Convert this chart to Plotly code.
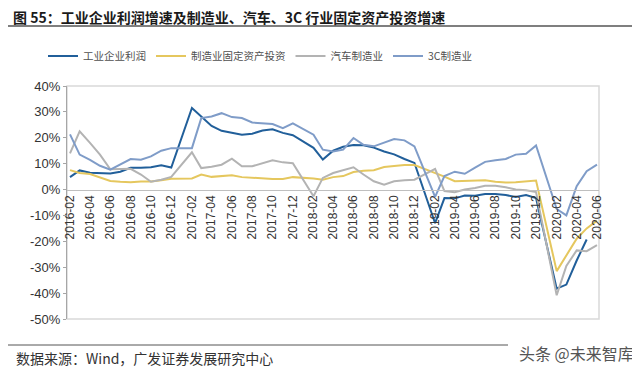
import plotly.graph_objects as go

months = [f"{y}-{m:02d}" for y in range(2016, 2021) for m in range(2, 13)][:49]

profit = [4.8, 7.4, 6.5, 6.4, 6.2, 6.9, 8.4, 8.4, 8.6, 9.4, 8.5,
          31.5, 28.3, 24.6, 22.7, 22.0, 21.2, 21.6, 22.8, 23.3, 21.9, 21.0,
          16.1, 11.6, 15.0, 16.5, 17.2, 17.1, 16.2, 14.7, 13.6, 11.8, 10.3,
          -13.0, -3.3, -3.4, -2.3, -2.4, -1.7, -1.7, -2.1, -2.9, -2.1, -3.3,
          -38.3, -36.7, -27.4, -19.3, None]

mfg_fai = [7.5, 6.4, 6.0, 4.6, 3.3, 3.0, 2.8, 3.1, 3.1, 3.6, 4.2,
           4.3, 5.8, 4.9, 5.1, 5.5, 4.8, 4.5, 4.2, 4.1, 4.1, 4.8,
           4.3, 3.8, 4.8, 5.2, 6.8, 7.3, 7.5, 8.7, 9.1, 9.5, 9.5,
           6.5, 5.0, 3.2, 3.3, 3.5, 3.6, 3.0, 2.7, 2.8, 3.2, 3.5,
           -31.5, -25.5, -19.0, -15.0, -12.0]

auto_fai = [14.0, 22.5, 18.0, 13.5, 7.8, 8.0, 8.0, 5.8, 3.0, 3.8, 4.9,
            14.4, 8.3, 8.8, 9.6, 11.9, 9.0, 9.0, 10.2, 11.3, 10.5, 10.2,
            -2.6, 4.5, 6.4, 7.4, 8.6, 5.8, 3.2, 1.9, 3.2, 3.6, 3.8,
            8.0, -0.6, -1.0, 0.0, 0.6, 1.5, 1.5, 0.9, 0.0, -0.3, -1.0,
            -40.8, -29.5, -23.5, -23.8, -21.5]

c3_fai = [21.3, 13.5, 11.5, 9.2, 7.7, 9.6, 11.8, 11.5, 12.8, 15.0, 16.0,
          16.0, 27.6, 28.2, 29.5, 28.0, 27.6, 25.9, 25.6, 25.3, 23.7, 25.6,
          21.2, 15.4, 14.7, 15.4, 19.9, 17.3, 16.7, 18.2, 19.5, 19.0, 16.7,
          -2.8, 5.2, 6.9, 6.1, 8.5, 10.7, 11.3, 11.8, 13.5, 13.8, 17.0,
          -7.5, -10.0, 1.3, 7.1, 9.6]

series = [("工业企业利润", profit, "#215F9A"),
          ("制造业固定资产投资", mfg_fai, "#E5C75E"),
          ("汽车制造业", auto_fai, "#B3B3B3"),
          ("3C制造业", c3_fai, "#7F9CC8")]

y_ticks = [40, 30, 20, 10, 0, -10, -20, -30, -40, -50]
y_labels = [f"{v}%" for v in y_ticks]

dates = [m + "-01" for m in months]

fig = go.Figure()
for name, vals, col in series:
    fig.add_trace(go.Scatter(x=dates, y=vals, name=name, mode="lines",
                             line=dict(color=col, width=2), connectgaps=False))

CJK = "Noto Sans CJK SC"
PW, PH = 532, 233
OFF = 8  # page body margin
fig.update_layout(
    width=640 - OFF, height=373 - OFF,
    margin=dict(l=67 - OFF, r=41, t=86 - OFF, b=54, autoexpand=False),
    paper_bgcolor="white", plot_bgcolor="white",
    font=dict(family="Liberation Sans, Arial, " + CJK, size=12, color="#333333"),
    showlegend=True,
    legend=dict(orientation="h", x=(53 - 67 - 10) / PW, xanchor="left",
                y=1 + (86 - 56) / PH, yanchor="middle",
                font=dict(family=CJK, size=10.5, color="#505050"),
                itemwidth=30, tracegroupgap=0, bgcolor="rgba(0,0,0,0)"),
    xaxis=dict(type="date", range=["2016-01-23", "2020-06-07"],
               tick0="2016-02-01", dtick="M2", tickformat="%Y-%m",
               tickangle=-90, tickfont=dict(size=12, color="#333333",
                                            family="Liberation Sans, Arial"),
               anchor="free", position=50 / 90, showline=True,
               linecolor="#BFBFBF", linewidth=1, showgrid=False,
               zeroline=False, ticks=""),
    yaxis=dict(range=[-50, 40], tickvals=y_ticks, ticktext=y_labels,
               showline=True, linecolor="#A6A6A6", linewidth=1,
               ticks="outside", ticklen=3, tickcolor="#A6A6A6",
               showgrid=False, zeroline=False, domain=[0, 1],
               tickfont=dict(size=13, color="#333333",
                             family="Liberation Sans, Arial")),
)

# frame around plot area
fig.add_shape(type="rect", xref="paper", yref="paper", x0=0, x1=1, y0=0, y1=1,
              line=dict(color="#D9D9D9", width=1.5), layer="below")

# title and rules
fig.add_annotation(text="<b>图 55：工业企业利润增速及制造业、汽车、3C 行业固定资产投资增速</b>",
                   xref="paper", yref="paper", x=(12 - 67) / PW, y=1 + (86 - 17) / PH,
                   xanchor="left", yanchor="middle", showarrow=False, borderpad=0,
                   font=dict(family=CJK, size=14, color="#1A1A1A"))
fig.add_shape(type="line", xref="paper", yref="paper",
              x0=(6 - 67) / PW, x1=(640 - 67) / PW, y0=1 + (86 - 26) / PH, y1=1 + (86 - 26) / PH,
              line=dict(color="#555555", width=1.5))
fig.add_shape(type="line", xref="paper", yref="paper",
              x0=(6 - 67) / PW, x1=(508 - 67) / PW, y0=-(345 - 319) / PH, y1=-(345 - 319) / PH,
              line=dict(color="#555555", width=1))
fig.add_annotation(text="数据来源：Wind，广发证券发展研究中心",
                   xref="paper", yref="paper", x=(14 - 67) / PW, y=-(358 - 319) / PH,
                   xanchor="left", yanchor="middle", showarrow=False,
                   font=dict(family=CJK, size=14, color="#333333"))
fig.add_annotation(text="头条 @未来智库",
                   xref="paper", yref="paper", x=(636 - 67) / PW, y=-(353 - 319) / PH,
                   xanchor="right", yanchor="middle", showarrow=False,
                   font=dict(family=CJK, size=16, color="#555555"))

fig.write_html("out.html")
